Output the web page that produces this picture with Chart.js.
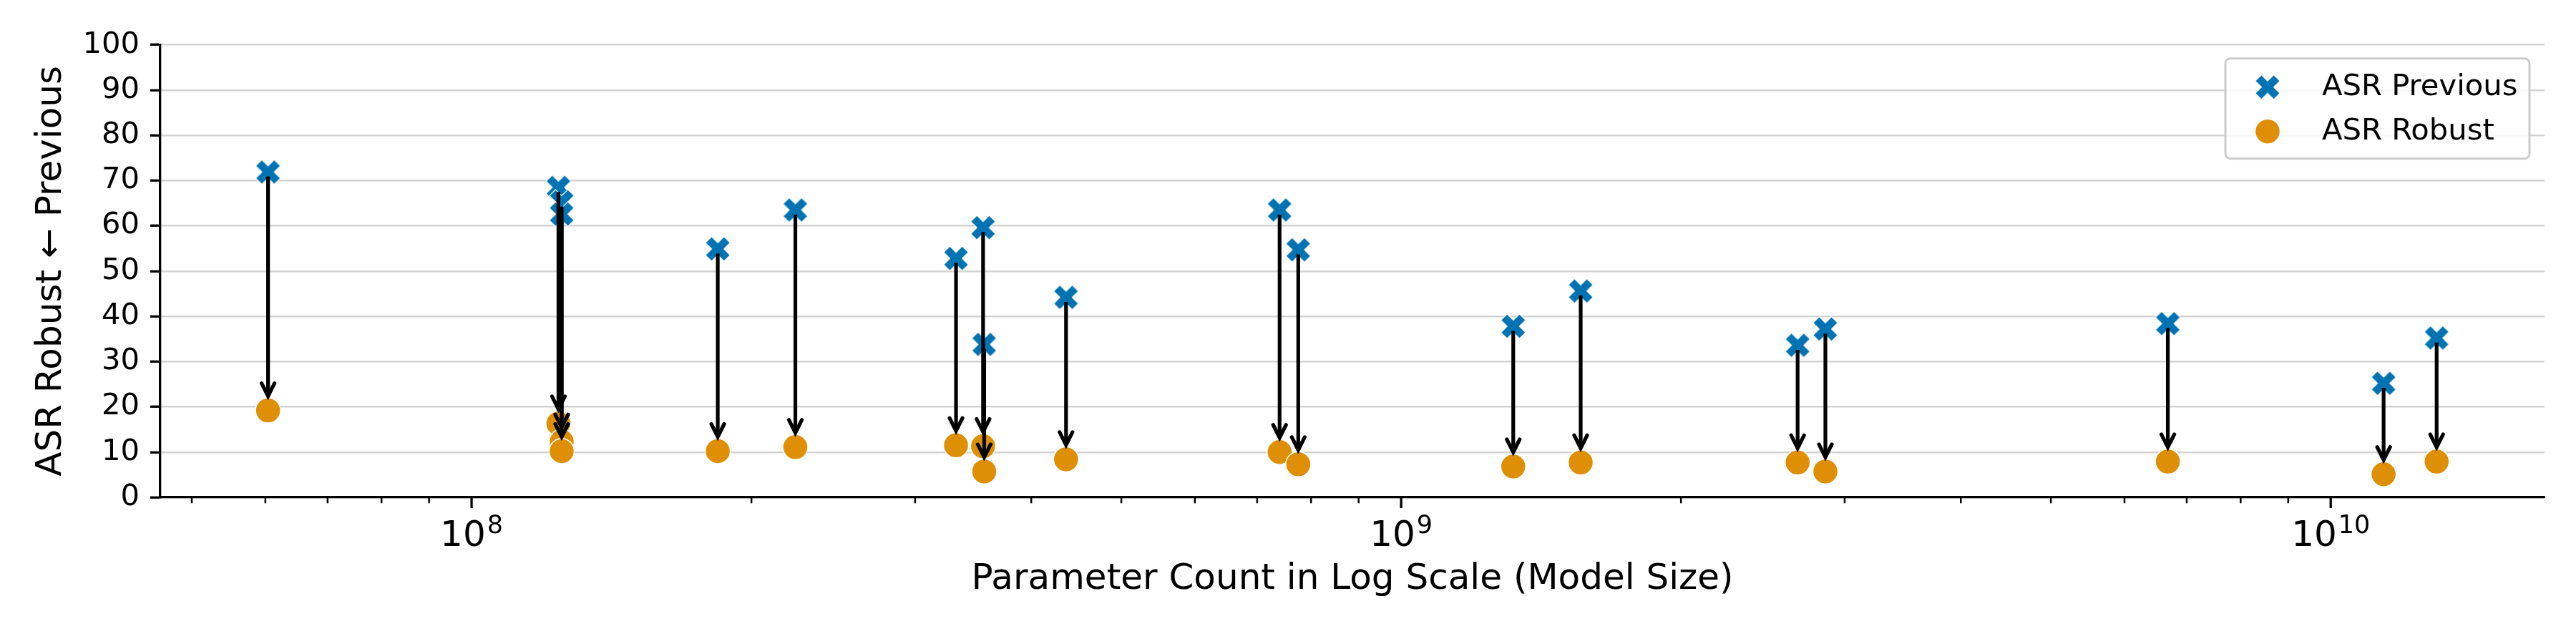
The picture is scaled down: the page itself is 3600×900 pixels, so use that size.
<!DOCTYPE html>
<html>
<head>
<meta charset="utf-8">
<script src="https://cdn.jsdelivr.net/npm/chart.js@4.4.1/dist/chart.umd.min.js"></script>
<style>
  html, body { margin: 0; padding: 0; background: #fff; }
  #wrap { width: 3600px; height: 900px; }
</style>
</head>
<body>
<div id="wrap"><canvas id="asrChart" width="3600" height="900"></canvas></div>
<script>
// model size (parameters) and attack success rate before / after
const paramCounts = [6.04e7, 1.24e8, 1.25e8, 1.25e8, 1.84e8, 2.23e8, 3.32e8, 3.55e8, 3.56e8, 4.36e8,
                     7.40e8, 7.75e8, 1.32e9, 1.56e9, 2.67e9, 2.86e9, 6.68e9, 1.14e10, 1.30e10];
const asrPrevious = [71.9, 68.5, 65.3, 62.6, 54.9, 63.5, 52.8, 59.6, 33.8, 44.2,
                     63.5, 54.7, 37.8, 45.6, 33.6, 37.2, 38.4, 25.2, 35.2];
const asrRobust   = [19.2, 16.3, 12.3, 10.2, 10.2, 11.1, 11.5, 11.3, 5.7, 8.4,
                     10.0, 7.3, 6.8, 7.7, 7.7, 5.7, 7.9, 5.1, 7.9];

const yTicks = [0, 10, 20, 30, 40, 50, 60, 70, 80, 90, 100];
const xMajorTicks = [1e8, 1e9, 1e10];
const xTickExponents = ['8', '9', '10'];   // labels read as 10^8, 10^9, 10^10

const seriesNames = ['ASR Previous', 'ASR Robust'];
const BLUE = '#0173b2';
const ORANGE = '#de8f05';
const FONT = 'DejaVu Sans';

const X_MIN = Math.pow(10, 7.6651);
const X_MAX = Math.pow(10, 10.230);

// filled "X" marker like matplotlib's
function makeXMarker(size, color) {
  const c = document.createElement('canvas');
  c.width = c.height = size + 4;
  const g = c.getContext('2d');
  g.translate(c.width / 2, c.height / 2);
  g.rotate(Math.PI / 4);
  const L = size / 2 * Math.SQRT2 * 0.75, w = L / 3;
  g.beginPath();
  g.moveTo(-w, -L); g.lineTo(w, -L); g.lineTo(w, -w); g.lineTo(L, -w);
  g.lineTo(L, w); g.lineTo(w, w); g.lineTo(w, L); g.lineTo(-w, L);
  g.lineTo(-w, w); g.lineTo(-L, w); g.lineTo(-L, -w); g.lineTo(-w, -w);
  g.closePath();
  g.fillStyle = color;
  g.fill();
  g.strokeStyle = '#fff';
  g.lineWidth = 1.2;
  g.stroke();
  return c;
}
const xMarker = makeXMarker(34.5, BLUE);

// log minor + major tick positions (1..9 x 10^n)
const xTickValues = [];
for (let e = 7; e <= 10; e++) {
  for (let m = 1; m <= 9; m++) {
    const v = m * Math.pow(10, e);
    if (v >= X_MIN && v <= X_MAX) xTickValues.push(v);
  }
}
function majorIndex(v) {
  return xMajorTicks.findIndex(t => Math.abs(t - v) / t < 1e-6);
}

const arrowPlugin = {
  id: 'arrows',
  afterDatasetsDraw(chart) {
    const {ctx, scales: {x, y}} = chart;
    ctx.save();
    ctx.strokeStyle = '#000';
    ctx.lineWidth = 5.2;
    ctx.lineJoin = 'miter';
    paramCounts.forEach((p, i) => {
      const px = x.getPixelForValue(p);
      const y0 = y.getPixelForValue(asrPrevious[i]) + 6.4;
      const y1 = y.getPixelForValue(asrRobust[i]) - 20;
      ctx.lineCap = 'butt';
      ctx.beginPath();
      ctx.moveTo(px, y0);
      ctx.lineTo(px, y1);
      ctx.stroke();
      ctx.lineCap = 'round';
      ctx.beginPath();
      ctx.moveTo(px - 9, y1 - 18);
      ctx.lineTo(px, y1);
      ctx.lineTo(px + 9, y1 - 18);
      ctx.stroke();
    });
    ctx.restore();
  }
};

const axisDecorPlugin = {
  id: 'axisDecor',
  afterDraw(chart) {
    const {ctx, chartArea} = chart;
    const xs = chart.scales.x;
    ctx.save();
    // x tick marks (major longer than minor) and 10^n labels
    ctx.strokeStyle = '#000';
    xs.ticks.forEach(t => {
      const px = xs.getPixelForValue(t.value);
      const k = majorIndex(t.value);
      ctx.lineWidth = k >= 0 ? 3.3 : 2.5;
      ctx.beginPath();
      ctx.moveTo(px, chartArea.bottom);
      ctx.lineTo(px, chartArea.bottom + (k >= 0 ? 15 : 8.3));
      ctx.stroke();
      if (k >= 0) {
        ctx.fillStyle = '#000';
        ctx.textBaseline = 'alphabetic';
        ctx.textAlign = 'left';
        ctx.font = '50px "' + FONT + '"';
        const wb = ctx.measureText('10').width;
        ctx.font = '35px "' + FONT + '"';
        const we = ctx.measureText(xTickExponents[k]).width;
        const x0 = px - (wb + we + 2) / 2;
        ctx.font = '50px "' + FONT + '"';
        ctx.fillText('10', x0, chartArea.bottom + 68);
        ctx.font = '35px "' + FONT + '"';
        ctx.fillText(xTickExponents[k], x0 + wb + 2, chartArea.bottom + 50);
      }
    });

    // legend box, upper right
    const boxW = 425, boxH = 140;
    const bx = chartArea.right - 21 - boxW;
    const by = chartArea.top + 19;
    ctx.beginPath();
    ctx.roundRect(bx, by, boxW, boxH, 7);
    ctx.fillStyle = 'rgba(255,255,255,0.8)';
    ctx.fill();
    ctx.strokeStyle = '#cccccc';
    ctx.lineWidth = 3;
    ctx.stroke();

    chart.data.datasets.forEach((ds, i) => {
      const cy = by + 40 + i * 62;
      const cx = bx + 59;
      if (i === 0) {
        ctx.drawImage(xMarker, cx - xMarker.width / 2, cy - xMarker.height / 2);
      } else {
        ctx.beginPath();
        ctx.arc(cx, cy, 17.5, 0, Math.PI * 2);
        ctx.fillStyle = ds.backgroundColor;
        ctx.fill();
        ctx.strokeStyle = '#fff';
        ctx.lineWidth = 1.5;
        ctx.stroke();
      }
      ctx.fillStyle = '#000';
      ctx.font = '41.7px "' + FONT + '"';
      ctx.textBaseline = 'middle';
      ctx.textAlign = 'left';
      ctx.fillText(ds.label, bx + 135, cy);
    });
    ctx.restore();
  }
};

Chart.defaults.font.family = FONT;
Chart.defaults.color = '#000';

new Chart(document.getElementById('asrChart'), {
  type: 'scatter',
  data: {
    datasets: [
      {
        label: seriesNames[0],
        data: paramCounts.map((p, i) => ({x: p, y: asrPrevious[i]})),
        pointStyle: xMarker,
        pointRadius: 17,
        backgroundColor: BLUE,
        borderColor: BLUE,
        order: 1
      },
      {
        label: seriesNames[1],
        data: paramCounts.map((p, i) => ({x: p, y: asrRobust[i]})),
        pointStyle: 'circle',
        pointRadius: 17.5,
        borderWidth: 1.5,
        backgroundColor: ORANGE,
        borderColor: '#ffffff',
        order: 0
      }
    ]
  },
  options: {
    responsive: false,
    devicePixelRatio: 1,
    animation: false,
    events: [],
    layout: { padding: { left: 0, right: 44, top: 62.7, bottom: 0 } },
    plugins: {
      legend: { display: false },
      tooltip: { enabled: false }
    },
    scales: {
      x: {
        type: 'logarithmic',
        min: X_MIN,
        max: X_MAX,
        afterBuildTicks: (scale) => {
          scale.ticks = xTickValues.map(v => ({value: v, major: majorIndex(v) >= 0}));
        },
        afterFit: (scale) => { scale.height = 205; },
        grid: { display: false, drawTicks: false },
        border: { display: true, color: '#000', width: 3.3 },
        ticks: { display: false, autoSkip: false, maxRotation: 0 },
        title: {
          display: true,
          text: 'Parameter Count in Log Scale (Model Size)',
          font: { size: 50 },
          padding: { top: 0, bottom: 60 }
        }
      },
      y: {
        min: 0,
        max: 100,
        afterBuildTicks: (scale) => {
          scale.ticks = yTicks.map(v => ({value: v}));
        },
        afterFit: (scale) => { scale.width = 224; },
        grid: {
          color: '#d3d3d3',
          lineWidth: 2.5,
          tickColor: '#000',
          tickWidth: 3.3,
          tickLength: 14
        },
        border: { display: true, color: '#000', width: 3.3 },
        ticks: {
          padding: 15,
          font: { size: 41.7 }
        },
        title: {
          display: true,
          text: 'ASR Robust ← Previous',
          font: { size: 50 },
          padding: { top: 42.5, bottom: 0 }
        }
      }
    }
  },
  plugins: [arrowPlugin, axisDecorPlugin]
});
</script>
</body>
</html>
